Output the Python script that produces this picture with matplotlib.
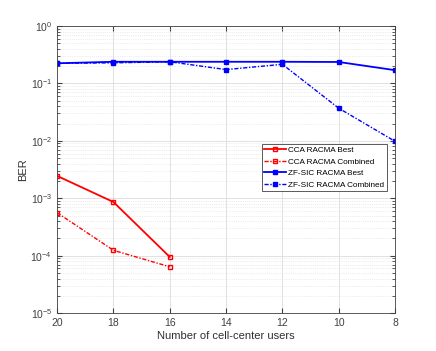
import matplotlib
matplotlib.use("Agg")
import matplotlib.pyplot as plt
from matplotlib.ticker import LogLocator, NullFormatter

users_cca = [20, 18, 16]
cca_best = [2.45e-3, 8.6e-4, 9.5e-5]
cca_comb = [5.6e-4, 1.24e-4, 6.4e-5]

users_zf = [20, 18, 16, 14, 12, 10, 8]
zf_best = [0.224, 0.238, 0.238, 0.238, 0.238, 0.236, 0.170]
zf_comb = [0.224, 0.228, 0.238, 0.174, 0.215, 0.037, 0.0098]

plt.rcParams["font.family"] = ["Liberation Sans", "DejaVu Sans"]

fig = plt.figure(figsize=(4.36, 3.51), dpi=100)
ax = fig.add_axes([0.131, 0.108, 0.775, 0.818])

dashdot = (0, (3, 1.2, 1, 1.2))
ax.semilogy(users_cca, cca_best, "-s", color="red", lw=1.3, ms=3.5,
            markerfacecolor="none", markeredgewidth=1.0, label="CCA RACMA Best")
ax.semilogy(users_cca, cca_comb, marker="s", ls=dashdot, color="red", lw=1.0, ms=3.5,
            markerfacecolor="none", markeredgewidth=1.0, label="CCA RACMA Combined")
ax.semilogy(users_zf, zf_best, "-s", color="blue", lw=1.3, ms=2.5,
            label="ZF-SIC RACMA Best")
ax.semilogy(users_zf, zf_comb, marker="s", ls=dashdot, color="blue", lw=1.0, ms=2.5,
            label="ZF-SIC RACMA Combined")

ax.set_xlim(20, 8)
ax.set_ylim(1e-5, 1)
ax.set_xticks([20, 18, 16, 14, 12, 10, 8])
ax.yaxis.set_major_locator(LogLocator(base=10, numticks=10))
ax.yaxis.set_minor_locator(LogLocator(base=10, subs=range(2, 10), numticks=20))
ax.yaxis.set_minor_formatter(NullFormatter())

ax.grid(True, which="major", color="#dcdcdc", lw=0.6)
ax.grid(True, which="minor", axis="y", color="#dcdcdc", lw=0.5, ls=":")
ax.tick_params(which="both", direction="in", top=True, right=True,
               labelsize=7.5, colors="#404040")
ax.tick_params(which="minor", length=2)
for s in ax.spines.values():
    s.set_color("#404040")
    s.set_linewidth(0.6)

ax.set_xlabel("Number of cell-center users", fontsize=8, color="#303030", labelpad=2)
ax.set_ylabel("BER", fontsize=8, color="#303030", labelpad=2)

leg = ax.legend(loc="upper left", bbox_to_anchor=(0.605, 0.59), fontsize=5.9,
                fancybox=False, framealpha=1, edgecolor="#404040",
                borderpad=0.35, labelspacing=0.45, handlelength=2.6,
                handletextpad=0.3, borderaxespad=0)
leg.get_frame().set_linewidth(0.6)

fig.savefig("out.png", dpi=100)
